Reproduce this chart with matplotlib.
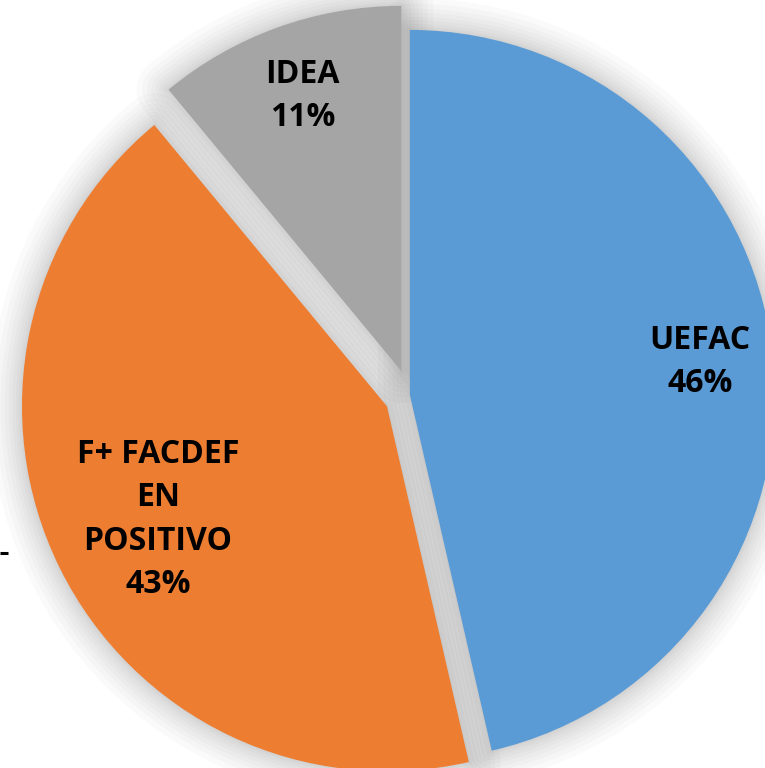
import numpy as np
import matplotlib
matplotlib.use("Agg")
import matplotlib.pyplot as plt
from matplotlib.patches import Wedge

categories = ["UEFAC", "F+ FACDEF\nEN\nPOSITIVO", "IDEA"]
values = [46.4, 42.6, 11.0]
colors = ["#5B9BD5", "#ED7D31", "#A5A5A5"]
explode = [0.0, 0.07, 0.07]
label_r = [0.80, 0.70, 0.80]

fig = plt.figure(figsize=(7.65, 7.68), dpi=100)
ax = fig.add_axes([0, 0, 1, 1])

wedges, _ = ax.pie(values, colors=colors, explode=explode, startangle=90,
                   counterclock=False, radius=1.0,
                   wedgeprops=dict(linewidth=0, zorder=3))

ax.set_aspect("auto")
ax.set_xlim(-1.123, 0.973)
ax.set_ylim(-1.022, 1.082)
ax.axis("off")

# soft shadow around each slice
for w in wedges:
    cx, cy = w.center
    for lw in [46, 38, 31, 25, 19, 14, 9, 5, 2]:
        sh = Wedge((cx, cy), w.r, w.theta1, w.theta2, facecolor="none",
                   edgecolor=(0, 0, 0, 0.018), linewidth=lw, joinstyle="round", zorder=1)
        ax.add_patch(sh)

total = sum(values)
for w, cat, v, r in zip(wedges, categories, values, label_r):
    ang = np.deg2rad((w.theta1 + w.theta2) / 2)
    cx, cy = w.center
    x = cx + r * np.cos(ang)
    y = cy + r * np.sin(ang)
    ax.text(x, y, f"{cat}\n{round(100 * v / total)}%", ha="center", va="center",
            fontsize=23, fontweight="bold", family=["Open Sans", "DejaVu Sans"],
            linespacing=1.42, color="black", zorder=5)

# small leftover leader stroke at the left edge
ax.plot([-1.123, -1.101], [-0.433, -0.433], color="black", lw=2.2, zorder=6,
        solid_capstyle="butt")

fig.savefig("out.png", dpi=100)
